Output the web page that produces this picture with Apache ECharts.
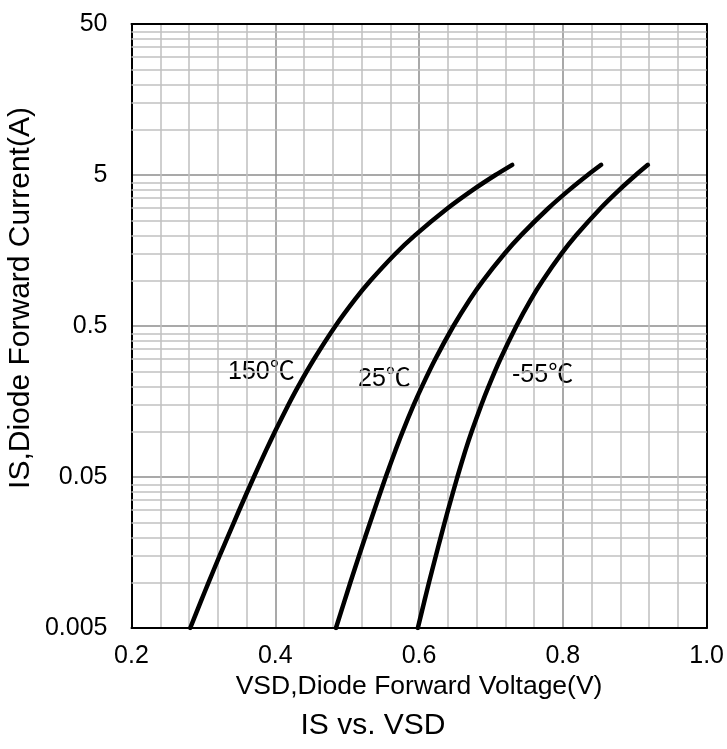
<!DOCTYPE html>
<html>
<head>
<meta charset="utf-8">
<script src="https://cdn.jsdelivr.net/npm/echarts@6/dist/echarts.min.js"></script>
<style>
  html, body { margin: 0; padding: 0; background: #fff; }
  #chart { width: 727px; height: 749px; }
</style>
</head>
<body>
<div id="chart"></div>
<script>
// IS vs VSD
var yBase = 0.005;
var yTickLabels = ["0.005", "0.05", "0.5", "5", "50"];
var minorFactors = [2, 3, 4, 5, 6, 7, 8, 9];

// current points (A) shared by the three curves
var isPts = [0.005, 0.0075, 0.01, 0.015, 0.02, 0.03, 0.05, 0.075, 0.1, 0.15, 0.2, 0.3, 0.5, 0.75, 1.0, 1.5, 2.0, 3.0, 4.0, 5.0, 5.84];

// forward voltage (V) at those currents
var vsd150 = [0.2817, 0.2965, 0.3071, 0.3225, 0.3337, 0.3496, 0.3702, 0.3871, 0.3996, 0.4181, 0.4321, 0.4536, 0.4837, 0.5109, 0.5325, 0.5668, 0.5946, 0.6393, 0.6754, 0.7063, 0.7296];
var vsd25  = [0.4844, 0.4961, 0.5044, 0.5164, 0.5251, 0.5376, 0.5536, 0.5671, 0.5772, 0.5925, 0.6043, 0.6223, 0.6478, 0.6707, 0.6891, 0.7185, 0.7420, 0.7795, 0.8094, 0.8346, 0.8533];
var vsdM55 = [0.5983, 0.6073, 0.6138, 0.6233, 0.6302, 0.6401, 0.6533, 0.6645, 0.6732, 0.6866, 0.6969, 0.7128, 0.7354, 0.7557, 0.7720, 0.7979, 0.8188, 0.8522, 0.8789, 0.9015, 0.9183];

function toY(v) { return Math.log10(v / yBase); }
function pts(xs) { return xs.map(function (x, i) { return [x, toY(isPts[i])]; }); }

var minorLines = [];
for (var d = 0; d < yTickLabels.length - 1; d++) {
  minorFactors.forEach(function (k) { minorLines.push({ yAxis: d + Math.log10(k) }); });
}

var font = "Liberation Sans, Arial, Noto Sans CJK SC, sans-serif";
var curveStyle = { color: "#000", width: 4.5, cap: "round" };

var dom = document.getElementById("chart");
var myChart = echarts.init(dom, null, { renderer: "canvas" });

var option = {
  animation: false,
  grid: { left: 131.5, right: 17.5, top: 24, bottom: 121 },
  xAxis: [
    {
      type: "value", min: 0.2, max: 1.0, interval: 0.2,
      axisLine: { show: true, lineStyle: { color: "#000", width: 2 } },
      axisTick: { show: false },
      axisLabel: { color: "#000", fontSize: 25, fontFamily: font, margin: 16,
        formatter: function (v) { return v.toFixed(1); } },
      splitLine: { show: true, lineStyle: { color: "#8c8c8c", width: 1.5 } },
      minorTick: { show: false, splitNumber: 5 },
      minorSplitLine: { show: true, lineStyle: { color: "#c0c0c0", width: 1.5 } },
      name: "VSD,Diode Forward Voltage(V)", nameLocation: "middle", nameGap: 43,
      nameTextStyle: { color: "#000", fontSize: 26.5, fontFamily: font }
    },
    {
      type: "value", position: "top", min: 0.2, max: 1.0, interval: 0.2,
      axisLine: { show: true, onZero: false, lineStyle: { color: "#000", width: 2 } },
      axisTick: { show: false }, axisLabel: { show: false }, splitLine: { show: false }
    }
  ],
  yAxis: [
    {
      type: "value", min: 0, max: 4, interval: 1,
      axisLine: { show: true, lineStyle: { color: "#000", width: 2 } },
      axisTick: { show: false },
      axisLabel: { color: "#000", fontSize: 25, fontFamily: font, margin: 24,
        formatter: function (v) { return yTickLabels[Math.round(v)]; } },
      splitLine: { show: true, lineStyle: { color: "#8c8c8c", width: 1.5 } }
    },
    {
      type: "value", position: "right", min: 0, max: 4, interval: 1,
      axisLine: { show: true, onZero: false, lineStyle: { color: "#000", width: 2 } },
      axisTick: { show: false }, axisLabel: { show: false }, splitLine: { show: false }
    }
  ],
  graphic: [
    { type: "text", x: 21, y: 298, rotation: Math.PI / 2,
      style: { text: "IS,Diode Forward Current(A)", font: "30px " + font, fill: "#000", textAlign: "center", textVerticalAlign: "middle" } },
    { type: "text", x: 373, y: 711, style: { text: "IS vs. VSD", font: "30px " + font, fill: "#000", textAlign: "center" } },
    { type: "text", x: 228, y: 360, style: { text: "150℃", font: "25px " + font, fill: "#000" } },
    { type: "text", x: 358, y: 367, style: { text: "25℃", font: "25px " + font, fill: "#000" } },
    { type: "text", x: 512, y: 363, style: { text: "-55℃", font: "25px " + font, fill: "#000" } }
  ],
  series: [
    {
      type: "line", data: [], z: 1, silent: true,
      markLine: { silent: true, symbol: "none", label: { show: false }, animation: false,
        lineStyle: { color: "#c0c0c0", width: 1.5, type: "solid" }, data: minorLines }
    },
    { name: "150℃", type: "line", smooth: 0.25, showSymbol: false, z: 5, lineStyle: curveStyle, data: pts(vsd150) },
    { name: "25℃", type: "line", smooth: 0.25, showSymbol: false, z: 5, lineStyle: curveStyle, data: pts(vsd25) },
    { name: "-55℃", type: "line", smooth: 0.25, showSymbol: false, z: 5, lineStyle: curveStyle, data: pts(vsdM55) }
  ]
};

myChart.setOption(option);
window.addEventListener("resize", myChart.resize);
</script>
</body>
</html>
